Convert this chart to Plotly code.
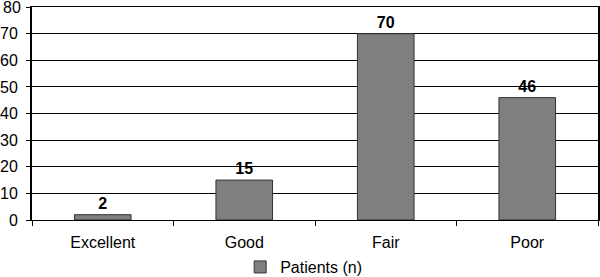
import plotly.graph_objects as go

categories = ["Excellent", "Good", "Fair", "Poor"]
patients = [2, 15, 70, 46]
y_ticks = [0, 10, 20, 30, 40, 50, 60, 70, 80]

fig = go.Figure()
fig.add_trace(go.Bar(
    x=categories, y=patients, name="Patients (n)",
    width=0.4,
    marker=dict(color="#7f7f7f", line=dict(color="#333333", width=1)),
    text=[str(v) for v in patients], textposition="outside",
    textfont=dict(family="Liberation Sans, Arial", size=16, color="black"),
    texttemplate="<b>%{text}</b>",
    cliponaxis=False,
))

tick_text = [str(v) for v in y_ticks[:-1]] + [""]
fig.add_annotation(x=0, xref="paper", y=y_ticks[-1], yref="y", text=str(y_ticks[-1]),
                   showarrow=False, xanchor="right", yanchor="middle", xshift=-9,
                   font=dict(family="Liberation Sans, Arial", size=16, color="black"))

fig.update_layout(
    width=600, height=277,
    margin=dict(l=32, r=2, t=7, b=57, autoexpand=False),
    plot_bgcolor="white", paper_bgcolor="white",
    font=dict(family="Liberation Sans, Arial", size=16, color="black"),
    showlegend=True,
    legend=dict(orientation="h", x=0.48, xanchor="center", yref="container",
                y=0.036, yanchor="middle", font=dict(size=16), itemwidth=30),
    xaxis=dict(showline=True, linecolor="black", linewidth=1, mirror=True,
               ticks="outside", tickson="boundaries", ticklen=5, tickcolor="black",
               showgrid=False, automargin=False, ticklabelstandoff=8),
    yaxis=dict(range=[0, 80.05], tickvals=y_ticks, ticktext=tick_text,
               showgrid=True, gridcolor="black", gridwidth=1,
               showline=True, linecolor="black", linewidth=2, mirror=True,
               ticks="outside", ticklen=4, tickcolor="black", zeroline=False,
               automargin=False, ticklabelstandoff=5),
)

fig.write_html("out.html", config={"displayModeBar": False},
               post_script="document.body.style.margin='0';document.body.style.overflow='hidden';")
